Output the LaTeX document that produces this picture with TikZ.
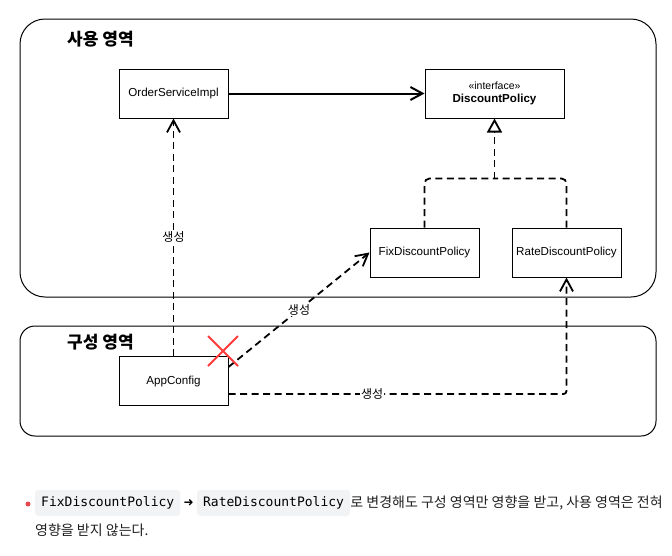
\documentclass[tikz,border=0pt]{standalone}
\usepackage{fontspec}
\setmainfont{Liberation Sans}
\newfontfamily\kr{Noto Sans CJK KR}
\newfontfamily\mono{DejaVu Sans Mono}
\newfontfamily\symf{DejaVu Sans}
\usetikzlibrary{arrows.meta,calc}
\definecolor{chipgray}{HTML}{F2F3F5}
\definecolor{xred}{HTML}{FF3B3B}
\definecolor{bulletred}{HTML}{E5484D}
\definecolor{txt}{HTML}{1F1F1F}
\begin{document}
\begin{tikzpicture}[x=1pt,y=-1pt,
  cls/.style={draw, line width=1pt, minimum width=109pt, minimum height=49pt, inner sep=0pt, font=\fontsize{11.6}{13.5}\selectfont},
  area/.style={draw, line width=1pt},
  areatitle/.style={anchor=west, inner sep=0pt, font=\kr\bfseries\fontsize{17}{20}\selectfont},
  dep/.style={line width=1.8pt, dash pattern=on 7pt off 4.5pt, -{Straight Barb[length=12pt,width=13pt,line width=1.8pt]}},
  realize/.style={line width=1.8pt, dash pattern=on 7pt off 4.5pt, rounded corners=5pt},
  lbl/.style={fill=white, inner sep=1pt, font=\kr\fontsize{12}{14}\selectfont},
  chip/.style={fill=chipgray, rounded corners=3pt, inner xsep=6pt, inner ysep=0pt, minimum height=26pt, anchor=west, font=\mono\fontsize{13}{15}\selectfont},
  body/.style={anchor=west, inner xsep=0pt, text=txt, font=\kr\fontsize{14}{17}\selectfont}
]
\useasboundingbox (0,0) rectangle (672,555);

% areas
\draw[area, rounded corners=25pt] (20,19) rectangle (656,297);
\draw[area, rounded corners=15pt] (20,326) rectangle (656,436);
\node[areatitle] (t1) at (67,39) {사용 영역};
\node[areatitle] (t2) at (67,342) {구성 영역};

% classes
\node[cls] (osi) at (173.5,93.5) {OrderServiceImpl};
\node[cls, minimum width=139pt, align=center] (dp) at (494.5,93.5) {{\fontsize{10.5}{12}\selectfont «interface»}\\[-1pt]\textbf{DiscountPolicy}};
\node[cls] (fix) at (424.5,252.5) {FixDiscountPolicy};
\node[cls] (rate) at (566.5,252.5) {RateDiscountPolicy};
\node[cls] (app) at (173.5,381) {AppConfig};

% association
\draw[line width=2pt, -{Straight Barb[length=12pt,width=13pt,line width=2pt]}] (osi) -- (dp);

% realization
\coordinate (j) at ($(dp.south)+(0,60)$);
\draw[realize] (fix.north) |- (j);
\draw[realize] (rate.north) |- (j);
\draw[realize, -{Triangle[open, length=14pt, width=15pt, line width=1.8pt]}] (j) -- (dp.south);

% creation dependencies
\draw[dep] (app.north) -- node[lbl, pos=0.5] {생성} (osi.south);
\draw[dep] ($(app.north east)+(0,11)$) -- node[lbl, pos=0.5] {생성} (fix.west);
\draw[dep, rounded corners=3pt] ($(app.east)+(0,13)$) -| node[lbl, pos=0.2125] {생성} (rate.south);

% red cross
\draw[xred, line width=2pt] (208,336) -- (238,366);
\draw[xred, line width=2pt] (238,336) -- (208,366);

% bottom text
\fill[bulletred] (28,504) circle (2.5pt);
\node[chip] (c1) at (35,503) {FixDiscountPolicy};
\node[anchor=west, inner xsep=3pt, font=\symf\fontsize{12}{14}\selectfont] (ar) at (c1.east) {➜};
\node[chip] (c2) at (ar.east) {RateDiscountPolicy};
\node[body] (b1) at (c2.east) {로 변경해도 구성 영역만 영향을 받고, 사용 영역은 전혀};
\node[body] (b2) at (35,530) {영향을 받지 않는다.};
\end{tikzpicture}
\end{document}
